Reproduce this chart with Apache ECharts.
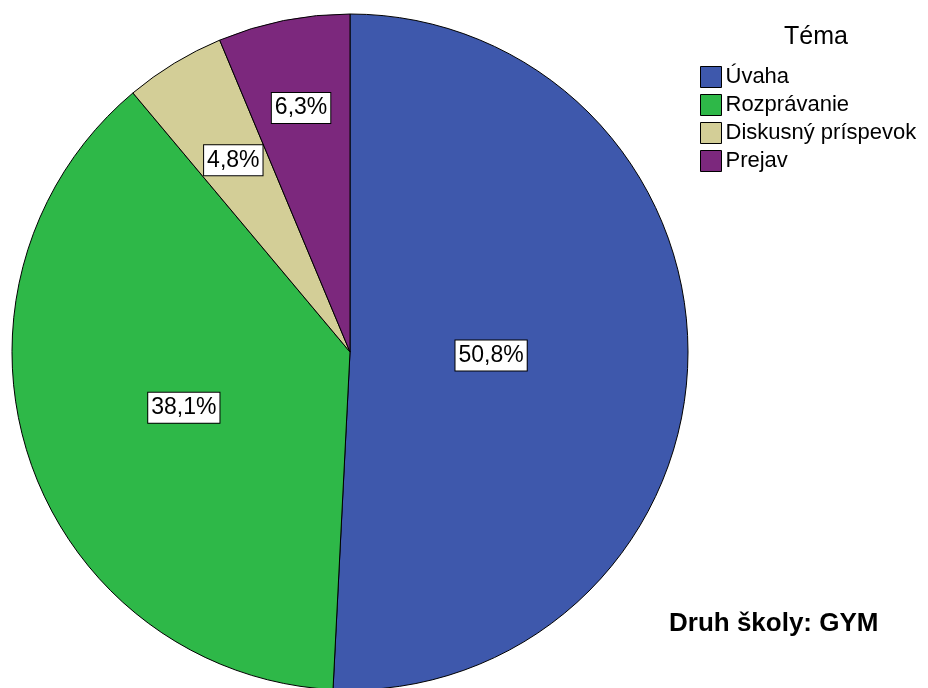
<!DOCTYPE html>
<html>
<head>
<meta charset="utf-8">
<script src="https://cdn.jsdelivr.net/npm/echarts@6/dist/echarts.min.js"></script>
<style>
html,body{margin:0;padding:0;background:#fff;}
#chart{width:928px;height:688px;}
</style>
</head>
<body>
<div id="chart"></div>
<script>
const categories = ['Úvaha', 'Rozprávanie', 'Diskusný príspevok', 'Prejav'];
const values = [50.8, 38.1, 4.8, 6.3];
const colors = ['#3E58AC', '#2EB848', '#D3CE97', '#7C287D'];
const legendTitle = 'Téma';
const panelTitle = 'Druh školy: GYM';

const CX = 350, CY = 352, R = 338;
const FONT = '"Liberation Sans", Arial, sans-serif';
const total = values.reduce((a, b) => a + b, 0);

// label placement: sector centroid, pushed outward when too close to an earlier label
const placed = [];
function centroid(i, extra) {
  let before = 0;
  for (let k = 0; k < i; k++) before += values[k];
  const half = values[i] / total * Math.PI;
  const mid = before / total * 2 * Math.PI + half;
  const d = 2 * R * Math.sin(half) / (3 * half) + extra;
  return { x: CX + d * Math.sin(mid), y: CY - d * Math.cos(mid) };
}

const chart = echarts.init(document.getElementById('chart'));
chart.setOption({
  backgroundColor: '#fff',
  animation: false,
  title: [
    { text: legendTitle, left: 779, top: 20,
      textStyle: { fontFamily: FONT, fontSize: 25, fontWeight: 'normal', color: '#000' } },
    { text: panelTitle, left: 664, top: 606,
      textStyle: { fontFamily: FONT, fontSize: 26, fontWeight: 'bold', color: '#000' } }
  ],
  legend: {
    orient: 'vertical', left: 695, top: 61,
    itemWidth: 21, itemHeight: 21, itemGap: 6,
    icon: 'rect',
    itemStyle: { borderColor: '#000', borderWidth: 1 },
    textStyle: { fontFamily: FONT, fontSize: 22, color: '#000', padding: [0, 0, 0, -1] },
    data: categories
  },
  series: [{
    type: 'pie',
    center: [CX, CY],
    radius: [0, R],
    startAngle: 90,
    clockwise: true,
    avoidLabelOverlap: false,
    itemStyle: { borderColor: '#000', borderWidth: 1 },
    label: {
      show: true, position: 'inside',
      formatter: p => p.value.toFixed(1).replace('.', ',') + '%',
      fontFamily: FONT, fontSize: 23, color: '#000',
      backgroundColor: '#fff', borderColor: '#000', borderWidth: 1,
      padding: [4, 3, 3, 3]
    },
    labelLine: { show: false },
    labelLayout: function (p) {
      const i = p.dataIndex;
      const w = p.labelRect.width, h = p.labelRect.height;
      let extra = 0, pos = centroid(i, 0);
      const clash = q => placed.some(o => o.i !== i && o.i < i &&
        Math.abs(o.x - q.x) < w + 20 && Math.abs(o.y - q.y) < h + 20);
      while (clash(pos) && extra < 200) { extra += 1; pos = centroid(i, extra); }
      placed.push({ i: i, x: pos.x, y: pos.y });
      return { x: pos.x, y: pos.y, align: 'center', verticalAlign: 'middle' };
    },
    emphasis: { disabled: true },
    data: categories.map((c, i) => ({ name: c, value: values[i], itemStyle: { color: colors[i] } }))
  }]
});
</script>
</body>
</html>
